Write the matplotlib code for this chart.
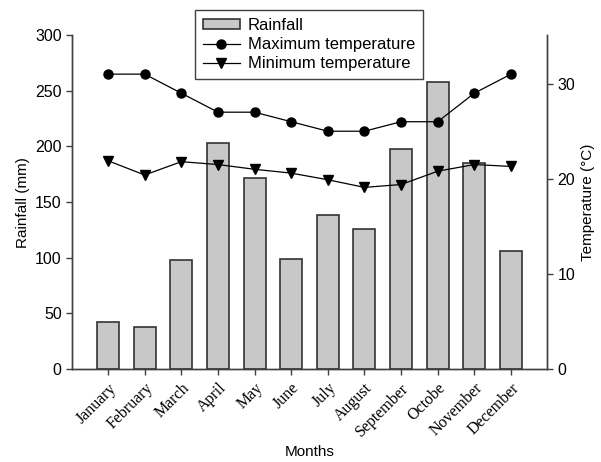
import matplotlib
matplotlib.use("Agg")
import matplotlib.pyplot as plt

months = ["January", "February", "March", "April", "May", "June", "July",
          "August", "September", "Octobe", "November", "December"]
rainfall = [42, 38, 98, 203, 172, 99, 138, 126, 198, 258, 185, 106]
max_temp = [31, 31, 29, 27, 27, 26, 25, 25, 26, 26, 29, 31]
min_temp = [21.9, 20.4, 21.8, 21.5, 21.0, 20.6, 19.9, 19.1, 19.4, 20.8, 21.5, 21.3]

plt.rcParams['font.family'] = ['Liberation Sans', 'DejaVu Sans']
spine_col = "#404040"

fig, ax1 = plt.subplots(figsize=(6.01, 4.62), dpi=100)
fig.subplots_adjust(left=0.12, right=0.91, top=0.924, bottom=0.201)

x = list(range(len(months)))
bars = ax1.bar(x, rainfall, width=0.6, color="#c8c8c8", edgecolor="#333333",
               linewidth=1.2, label="Rainfall")
ax1.set_xlim(-0.98, 11.98)
ax1.set_ylim(0, 300)
ax1.set_yticks([0, 50, 100, 150, 200, 250, 300])
ax1.set_ylabel("Rainfall (mm)", fontsize=11)
ax1.set_xlabel("Months", fontsize=11, labelpad=4)
ax1.set_xticks(x)
ax1.set_xticklabels(months, rotation=45, ha="right", rotation_mode="anchor",
                    family="Liberation Serif")

ax2 = ax1.twinx()
l1, = ax2.plot(x, max_temp, color="black", lw=0.9, marker="o", ms=6.5,
               label="Maximum temperature")
l2, = ax2.plot(x, min_temp, color="black", lw=0.9, marker="v", ms=7,
               label="Minimum temperature")
ax2.set_ylim(0, 35.1)
ax2.set_yticks([0, 10, 20, 30])
ax2.set_ylabel("Temperature (°C)", fontsize=11)

for ax in (ax1, ax2):
    ax.spines["top"].set_visible(False)
    for s in ("left", "right", "bottom"):
        ax.spines[s].set_color(spine_col)
        ax.spines[s].set_linewidth(1.0)
    ax.tick_params(colors=spine_col, labelcolor="black", labelsize=11.5,
                   length=4, width=1.0)
ax1.tick_params(axis="x", labelsize=11.5, pad=4)

leg = fig.legend([bars, l1, l2],
                 ["Rainfall", "Maximum temperature", "Minimum temperature"],
                 loc="upper left", bbox_to_anchor=(187 / 601, 1 - 2 / 462),
                 fancybox=False, framealpha=1, edgecolor=spine_col,
                 fontsize=12, handlelength=2.2, handleheight=0.55,
                 borderpad=0.45, labelspacing=0.25, handletextpad=0.5)
leg.get_frame().set_linewidth(1.0)

fig.savefig("out.png", dpi=100)
